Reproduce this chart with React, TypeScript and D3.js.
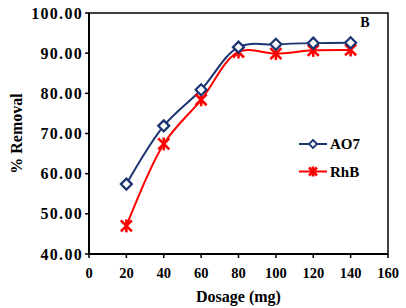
import React from 'react';
import * as d3 from 'd3';

const dosage = [20, 40, 60, 80, 100, 120, 140];
const ao7 = [57.4, 71.9, 80.9, 91.5, 92.2, 92.5, 92.6];
const rhb = [47.0, 67.4, 78.4, 90.3, 89.9, 90.7, 90.8];
const xTicks = [0, 20, 40, 60, 80, 100, 120, 140, 160];
const yTicks = [40, 50, 60, 70, 80, 90, 100];

const W = 406, H = 308;
const m = { left: 89, top: 13, right: 18, bottom: 54 };
const navy = '#1c3570';
const red = '#ff0000';
const font = '"Liberation Serif", "Times New Roman", serif';

export default function App() {
  const x = d3.scaleLinear().domain([0, 160]).range([m.left, W - m.right]);
  const y = d3.scaleLinear().domain([40, 100]).range([H - m.bottom, m.top]);

  const line = d3.line<number>()
    .x((d, i) => x(dosage[i]))
    .y(d => y(d))
    .curve(d3.curveCatmullRom.alpha(0.5));

  const diamond = (cx: number, cy: number, r = 5.5) =>
    `M${cx},${cy - r}L${cx + r},${cy}L${cx},${cy + r}L${cx - r},${cy}Z`;
  const star = (cx: number, cy: number, key: any, r = 5.5) => (
    <g key={key} stroke={red} strokeWidth={2.6}>
      <line x1={cx - r} y1={cy - r} x2={cx + r} y2={cy + r} />
      <line x1={cx - r} y1={cy + r} x2={cx + r} y2={cy - r} />
      <line x1={cx} y1={cy - r - 1} x2={cx} y2={cy + r + 1} />
    </g>
  );

  const x0 = x(0), x1 = x(160), yb = y(40), yt = y(100);

  return (
    <svg width={W} height={H} style={{ position: 'absolute', left: 0, top: 0 }} fontFamily={font} fontWeight="bold">
      <rect width={W} height={H} fill="#fff" />
      {/* frame */}
      <rect x={x0} y={yt} width={x1 - x0} height={yb - yt} fill="none" stroke="#000" strokeWidth={1.5} />
      <line x1={x0} y1={yt} x2={x0} y2={yb} stroke="#000" strokeWidth={2} />
      <line x1={x0} y1={yb} x2={x1} y2={yb} stroke="#000" strokeWidth={2} />
      {/* y ticks */}
      {yTicks.map(t => (
        <g key={'y' + t}>
          <line x1={x0 - 4} x2={x0} y1={y(t)} y2={y(t)} stroke="#000" strokeWidth={1.5} />
          <text x={x0 - 6} y={y(t)} dy="0.35em" textAnchor="end" fontSize={16} letterSpacing={1.3}>{t.toFixed(2)}</text>
        </g>
      ))}
      {/* x ticks */}
      {xTicks.map(t => (
        <g key={'x' + t}>
          <line x1={x(t)} x2={x(t)} y1={yb} y2={yb + 4} stroke="#000" strokeWidth={1.5} />
          <text x={x(t)} y={yb + 24} textAnchor="middle" fontSize={14.5}>{t}</text>
        </g>
      ))}
      <text x={(x0 + x1) / 2} y={H - 6} textAnchor="middle" fontSize={16}>Dosage (mg)</text>
      <text transform={`translate(22,${(yt + yb) / 2}) rotate(-90)`} textAnchor="middle" fontSize={16}>% Removal</text>
      <text x={365} y={27} textAnchor="middle" fontSize={14}>B</text>

      {/* series */}
      <path d={line(rhb) || ''} fill="none" stroke={red} strokeWidth={2} />
      <path d={line(ao7) || ''} fill="none" stroke={navy} strokeWidth={2} />
      {rhb.map((v, i) => star(x(dosage[i]), y(v), 'r' + i))}
      {ao7.map((v, i) => (
        <path key={'a' + i} d={diamond(x(dosage[i]), y(v))} fill="#fff" stroke={navy} strokeWidth={2.2} />
      ))}

      {/* legend */}
      <line x1={299} x2={327} y1={144} y2={144} stroke={navy} strokeWidth={2} />
      <path d={diamond(313, 144, 4)} fill="#fff" stroke={navy} strokeWidth={1.8} />
      <text x={330} y={149} fontSize={15}>AO7</text>
      <line x1={299} x2={327} y1={171.5} y2={171.5} stroke={red} strokeWidth={2} />
      {star(313, 171.5, 'leg', 4)}
      <text x={330} y={177} fontSize={15}>RhB</text>
    </svg>
  );
}
